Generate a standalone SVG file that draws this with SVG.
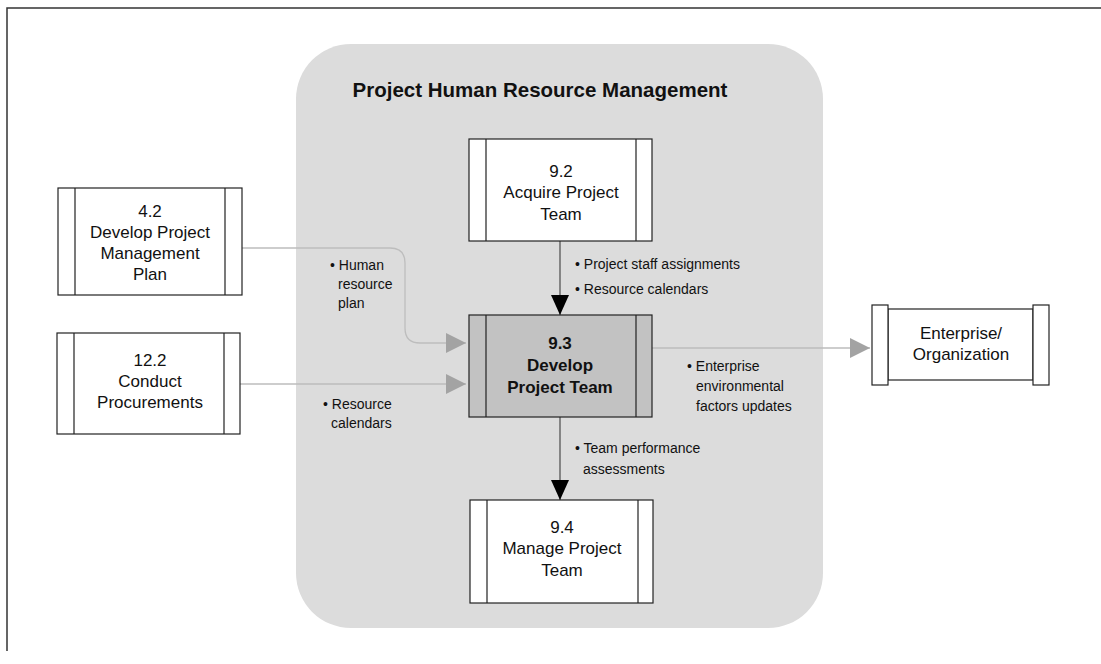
<svg xmlns="http://www.w3.org/2000/svg" width="1101" height="664" viewBox="0 0 1101 664">
<style>
.t{font-family:"Liberation Sans Narrow","Liberation Sans",Arial,sans-serif;fill:#111;}
.n{font-size:17px;text-anchor:middle;}
.b{font-weight:bold;}
.l{font-size:14px;}
.box{fill:#fff;stroke:#222;stroke-width:1.2;}
.gl{fill:none;stroke:#bdbdbd;stroke-width:1.3;}
.dl{fill:none;stroke:#555;stroke-width:1.3;}
</style>
<defs>
<marker id="ag" viewBox="0 0 20 20" refX="20" refY="10" markerWidth="20" markerHeight="20" markerUnits="userSpaceOnUse" orient="auto"><path d="M0,0 L20,10 L0,20 Z" fill="#a3a3a3"/></marker>
<marker id="ab" viewBox="0 0 20 18" refX="20" refY="9" markerWidth="20" markerHeight="18" markerUnits="userSpaceOnUse" orient="auto"><path d="M0,0 L20,9 L0,18 Z" fill="#000"/></marker>
</defs>
<rect width="1101" height="664" fill="#fff"/>
<path d="M7,651 V8 H1101" fill="none" stroke="#333" stroke-width="1.5"/>
<rect id="panel" x="296" y="44" width="527" height="584" rx="55" ry="55" fill="#dcdcdc"/>
<text class="t b" x="540" y="97" font-size="20.5" text-anchor="middle">Project Human Resource Management</text>

<g id="connectors">
<path class="gl" d="M242,248 H390 Q405,248 405,263 V328 Q405,343 420,343 H466" marker-end="url(#ag)"/>
<path class="gl" d="M240,384 H466" marker-end="url(#ag)"/>
<path class="gl" d="M652,348 H870" marker-end="url(#ag)"/>
<path class="dl" d="M560,241 V315" marker-end="url(#ab)"/>
<path class="dl" d="M560,417 V500" marker-end="url(#ab)"/>
<g class="t l">
<text x="575" y="269">• Project staff assignments</text>
<text x="575" y="294">• Resource calendars</text>
<text x="575" y="453">• Team performance</text>
<text x="583" y="474">assessments</text>
<text x="330" y="270">• Human</text>
<text x="338" y="289">resource</text>
<text x="338" y="308">plan</text>
<text x="323" y="409">• Resource</text>
<text x="331" y="428">calendars</text>
<text x="687" y="371">• Enterprise</text>
<text x="696" y="391">environmental</text>
<text x="696" y="411">factors updates</text>
</g>
</g>

<g id="n42">
<rect class="box" x="58" y="188" width="184" height="107"/>
<path d="M75,188 V295 M225,188 V295" stroke="#222" stroke-width="1.2"/>
<text class="t n" x="150" y="217">4.2</text>
<text class="t n" x="150" y="238">Develop Project</text>
<text class="t n" x="150" y="259">Management</text>
<text class="t n" x="150" y="280">Plan</text>
</g>
<g id="n122">
<rect class="box" x="57" y="333" width="183" height="101"/>
<path d="M74,333 V434 M224,333 V434" stroke="#222" stroke-width="1.2"/>
<text class="t n" x="150" y="366">12.2</text>
<text class="t n" x="150" y="387">Conduct</text>
<text class="t n" x="150" y="408">Procurements</text>
</g>
<g id="n92">
<rect class="box" x="469" y="139" width="183" height="102"/>
<path d="M486,139 V241 M636,139 V241" stroke="#222" stroke-width="1.2"/>
<text class="t n" x="561" y="177">9.2</text>
<text class="t n" x="561" y="198">Acquire Project</text>
<text class="t n" x="561" y="220">Team</text>
</g>
<g id="n93">
<rect class="box" x="469" y="315" width="183" height="102" style="fill:#c2c2c2"/>
<path d="M486,315 V417 M636,315 V417" stroke="#222" stroke-width="1.2"/>
<text class="t n b" x="560" y="349">9.3</text>
<text class="t n b" x="560" y="371">Develop</text>
<text class="t n b" x="560" y="393">Project Team</text>
</g>
<g id="n94">
<rect class="box" x="470" y="500" width="183" height="103"/>
<path d="M487,500 V603 M638,500 V603" stroke="#222" stroke-width="1.2"/>
<text class="t n" x="562" y="533">9.4</text>
<text class="t n" x="562" y="554">Manage Project</text>
<text class="t n" x="562" y="576">Team</text>
</g>
<g id="ent">
<rect class="box" x="888" y="309" width="145" height="71"/>
<rect class="box" x="872" y="305" width="16" height="80"/>
<rect class="box" x="1033" y="305" width="16" height="80"/>
<text class="t n" x="961" y="339">Enterprise/</text>
<text class="t n" x="961" y="360">Organization</text>
</g>
</svg>
